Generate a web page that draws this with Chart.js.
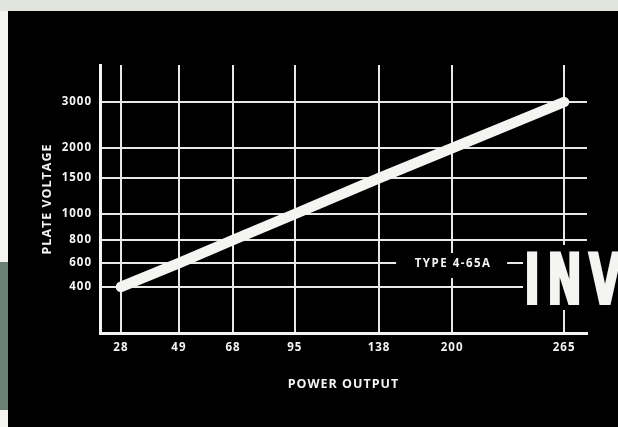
<!DOCTYPE html>
<html>
<head>
<meta charset="utf-8">
<title>Plate voltage vs power output</title>
<script src="https://cdn.jsdelivr.net/npm/chart.js@4.4.1/dist/chart.umd.min.js"></script>
<style>
  html, body { margin:0; padding:0; background:#000; overflow:hidden; }
  canvas { display:block; }
</style>
</head>
<body>
<canvas id="plateChart" width="618" height="427"></canvas>
<script>
/* =============================================
   Plate voltage vs power output (vintage ad graph)
   ============================================= */

// values as printed on the graph
const powerOutput  = [28, 49, 68, 95, 138, 200, 265];
const plateVoltage = [400, 600, 800, 1000, 1500, 2000, 3000];
const xTicks = [28, 49, 68, 95, 138, 200, 265];
const yTicks = [400, 600, 800, 1000, 1500, 2000, 3000];
const seriesLabel = 'TYPE 4-65A';

// ─── scale with hand-ruled (uneven) divisions ──
class RuledScale extends Chart.LinearScale {
  buildTicks() {
    return this.options.ruled.values.map(v => ({ value: v }));
  }
  _frac(v) {
    const vals = this.options.ruled.values, at = this.options.ruled.at;
    let i = 1;
    while (i < vals.length - 1 && v > vals[i]) i++;
    return at[i-1] + (v - vals[i-1]) / (vals[i] - vals[i-1]) * (at[i] - at[i-1]);
  }
  getPixelForValue(v) {
    return v == null ? NaN : this.getPixelForDecimal(this._frac(v));
  }
  getValueForPixel(p) {
    const vals = this.options.ruled.values, at = this.options.ruled.at;
    const d = this.getDecimalForPixel(p);
    let i = 1;
    while (i < at.length - 1 && d > at[i]) i++;
    return vals[i-1] + (d - at[i-1]) / (at[i] - at[i-1]) * (vals[i] - vals[i-1]);
  }
}
RuledScale.id = 'ruled';
RuledScale.defaults = {};
Chart.register(RuledScale);

const INK = '#f4f4f2';
const tickFont = { family: '"Open Sans", "DejaVu Sans", sans-serif', size: 11.5, weight: 'bold' };

// paper edges + black card
const backdrop = {
  id: 'backdrop',
  beforeDraw(chart) {
    const { ctx, width, height } = chart;
    ctx.save();
    ctx.fillStyle = '#000'; ctx.fillRect(0, 0, width, height);
    ctx.fillStyle = '#e2e4de'; ctx.fillRect(0, 0, width, 11);
    ctx.fillStyle = '#f3f3f1'; ctx.fillRect(0, 11, 8, 251); ctx.fillRect(0, 410, 8, 17);
    ctx.fillStyle = '#6c7f76'; ctx.fillRect(0, 262, 8, 148);
    ctx.restore();
    ctx.letterSpacing = '1px';
  }
};

// series tag on the 600 rule + the big "INV" of the ad headline
const callouts = {
  id: 'callouts',
  afterDatasetsDraw(chart) {
    const { ctx, scales: { x, y } } = chart;
    const lx = x.getPixelForValue(200), ly = y.getPixelForValue(600);
    ctx.save();
    ctx.fillStyle = '#000';
    ctx.fillRect(lx - 56, ly - 10, 111, 25);
    ctx.fillRect(523, 245, 95, 65);
    ctx.fillStyle = INK;
    ctx.font = 'bold 11.5px "Open Sans", sans-serif';
    ctx.letterSpacing = '1.5px';
    ctx.textAlign = 'center';
    ctx.textBaseline = 'middle';
    ctx.fillText(seriesLabel, lx + 1, ly + 1);

    // condensed heavy headline letters (cut off by the card edge)
    const sx = 0.6;
    ctx.letterSpacing = '0px';
    ctx.textAlign = 'left';
    ctx.textBaseline = 'alphabetic';
    ctx.translate(0, 303);
    ctx.scale(sx, 1);
    ctx.font = 'bold 68px "DejaVu Sans", sans-serif';
    ctx.strokeStyle = INK; ctx.lineWidth = 4; ctx.lineJoin = 'miter';
    [['I', 527], ['N', 550], ['V', 588]].forEach(([ch, left]) => {
      const m = ctx.measureText(ch);
      const px = (left + 1.2) / sx + m.actualBoundingBoxLeft;
      ctx.fillText(ch, px, 0);
      ctx.strokeText(ch, px, 0);
    });
    ctx.restore();
  }
};

new Chart(document.getElementById('plateChart').getContext('2d'), {
  type: 'line',
  data: {
    datasets: [{
      label: seriesLabel,
      data: powerOutput.map((p, i) => ({ x: p, y: plateVoltage[i] })),
      borderColor: INK, borderWidth: 10.5, borderCapStyle: 'round',
      pointRadius: 0, tension: 0, fill: false,
    }]
  },
  options: {
    responsive: false, animation: false, devicePixelRatio: 1,
    layout: { padding: { top: 65, right: 31, bottom: 0, left: 0 } },
    plugins: { legend: { display: false }, tooltip: { enabled: false } },
    scales: {
      x: {
        type: 'ruled', position: 'bottom',
        ruled: { values: xTicks, at: [0.043, 0.162, 0.273, 0.400, 0.573, 0.723, 0.953] },
        grid: { color: '#e8e8e6', lineWidth: 2, drawTicks: false },
        border: { color: INK, width: 3 },
        ticks: { color: INK, font: tickFont, padding: 8, autoSkip: false, maxRotation: 0,
                 callback: (v, i) => String(xTicks[i]) },
        title: { display: true, text: 'POWER OUTPUT', color: INK,
                 font: { family: '"Open Sans", sans-serif', size: 12.5, weight: 'bold' },
                 padding: { bottom: 35 } },
        afterFit: s => { s.height = 94; },
      },
      y: {
        type: 'ruled', position: 'left',
        ruled: { values: yTicks, at: [0.172, 0.261, 0.347, 0.444, 0.578, 0.690, 0.862] },
        grid: { color: '#e8e8e6', lineWidth: 2, drawTicks: false },
        border: { color: INK, width: 3 },
        ticks: { color: INK, font: tickFont, padding: 8, autoSkip: false,
                 callback: (v, i) => String(yTicks[i]) },
        title: { display: true, text: 'PLATE VOLTAGE', color: INK,
                 font: { family: '"Open Sans", sans-serif', size: 12.5, weight: 'bold' },
                 padding: { top: 40 } },
        afterFit: s => { s.width = 100; },
      }
    }
  },
  plugins: [backdrop, callouts]
});
</script>
</body>
</html>
